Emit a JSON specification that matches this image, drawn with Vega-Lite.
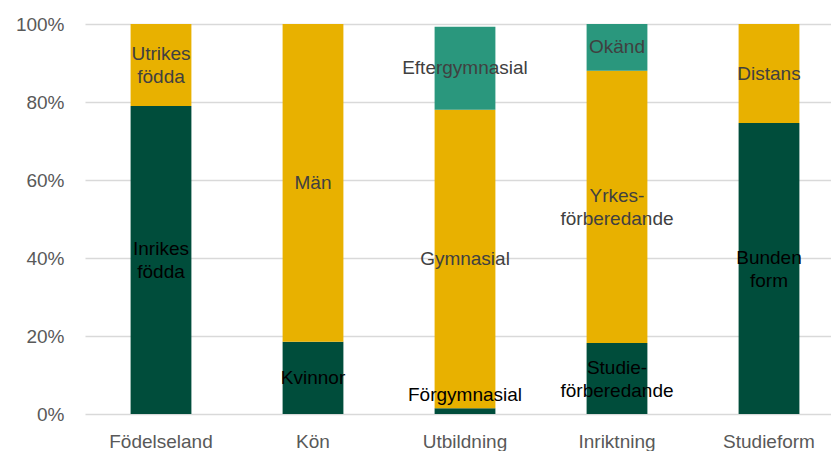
{
  "$schema": "https://vega.github.io/schema/vega-lite/v6.json",
  "width": 760,
  "height": 390,
  "autosize": {"type": "none"},
  "padding": {"left": 85, "top": 24, "right": 0, "bottom": 37},
  "background": "white",
  "config": {
    "view": {"stroke": null},
    "font": "Liberation Sans"
  },
  "data": {
    "values": [
      {"kategori": "Födelseland", "grupp": "Inrikes\nfödda", "niva": 1, "andel": 0.79},
      {"kategori": "Födelseland", "grupp": "Utrikes\nfödda", "niva": 2, "andel": 0.21},
      {"kategori": "Kön", "grupp": "Kvinnor", "niva": 1, "andel": 0.185},
      {"kategori": "Kön", "grupp": "Män", "niva": 2, "andel": 0.815},
      {"kategori": "Utbildning", "grupp": "Förgymnasial", "niva": 1, "andel": 0.015},
      {"kategori": "Utbildning", "grupp": "Gymnasial", "niva": 2, "andel": 0.765},
      {"kategori": "Utbildning", "grupp": "Eftergymnasial", "niva": 3, "andel": 0.213},
      {"kategori": "Inriktning", "grupp": "Studie-\nförberedande", "niva": 1, "andel": 0.182},
      {"kategori": "Inriktning", "grupp": "Yrkes-\nförberedande", "niva": 2, "andel": 0.698},
      {"kategori": "Inriktning", "grupp": "Okänd", "niva": 3, "andel": 0.12},
      {"kategori": "Studieform", "grupp": "Bunden\nform", "niva": 1, "andel": 0.746},
      {"kategori": "Studieform", "grupp": "Distans", "niva": 2, "andel": 0.254}
    ]
  },
  "transform": [
    {"stack": "andel", "groupby": ["kategori"], "sort": [{"field": "niva", "order": "ascending"}], "as": ["y0", "y1"]},
    {"calculate": "(datum.y0 + datum.y1) / 2", "as": "mid"}
  ],
  "encoding": {
    "x": {
      "field": "kategori",
      "type": "nominal",
      "sort": ["Födelseland", "Kön", "Utbildning", "Inriktning", "Studieform"],
      "scale": {"paddingInner": 0.6, "paddingOuter": 0.3},
      "axis": {
        "title": null,
        "labelAngle": 0,
        "domain": false,
        "ticks": false,
        "grid": false,
        "labelFontSize": 19,
        "labelColor": "#595959",
        "labelPadding": 18
      }
    }
  },
  "layer": [
    {
      "mark": {"type": "bar"},
      "encoding": {
        "y": {
          "field": "y0",
          "type": "quantitative",
          "scale": {"domain": [0, 1], "nice": false},
          "axis": {
            "title": null,
            "format": "%",
            "values": [0, 0.2, 0.4, 0.6, 0.8, 1],
            "domain": false,
            "ticks": false,
            "grid": true,
            "gridColor": "#d9d9d9",
            "gridWidth": 1.3,
            "labelFontSize": 19,
            "labelColor": "#595959",
            "labelPadding": 21
          }
        },
        "y2": {"field": "y1"},
        "color": {
          "field": "niva",
          "type": "nominal",
          "scale": {"domain": [1, 2, 3], "range": ["#004d3b", "#e8b100", "#2a977d"]},
          "legend": null
        }
      }
    },
    {
      "transform": [{"filter": "datum.grupp != 'Förgymnasial' && indexof(datum.grupp, '\\n') < 0"}],
      "mark": {"type": "text", "fontSize": 19, "baseline": "middle"},
      "encoding": {
        "y": {"field": "mid", "type": "quantitative"},
        "text": {"field": "grupp"},
        "color": {"condition": {"test": "datum.niva == 1", "value": "#000000"}, "value": "#404040"}
      }
    },
    {
      "transform": [{"filter": "indexof(datum.grupp, '\\n') >= 0"}],
      "mark": {"type": "text", "fontSize": 19, "lineBreak": "\n", "lineHeight": 23, "baseline": "middle", "dy": -11},
      "encoding": {
        "y": {"field": "mid", "type": "quantitative"},
        "text": {"field": "grupp"},
        "color": {"condition": {"test": "datum.niva == 1", "value": "#000000"}, "value": "#404040"}
      }
    },
    {
      "transform": [{"filter": "datum.grupp == 'Förgymnasial'"}],
      "mark": {"type": "text", "fontSize": 19, "baseline": "middle", "dy": -16, "color": "#000000"},
      "encoding": {
        "y": {"field": "mid", "type": "quantitative"},
        "text": {"field": "grupp"}
      }
    }
  ]
}
